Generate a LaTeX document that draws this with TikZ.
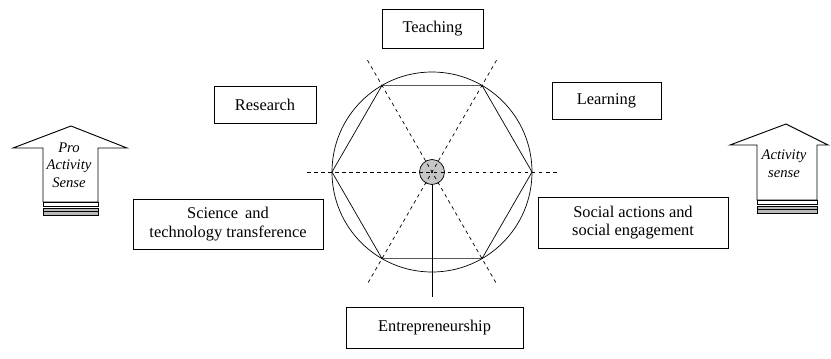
\documentclass[tikz,border=0pt]{standalone}
\usepackage{fontspec}
\newfontfamily\timesfont{Liberation Serif}
\usepackage{tikz}
\usetikzlibrary{calc}

\begin{document}
\begin{tikzpicture}[x=0.03cm, y=-0.03cm, line width=0.8pt,
        field/.style={draw, rectangle, align=center, font=\timesfont\fontsize{14}{15.5}\selectfont},
        sensetext/.style={align=center, font=\timesfont\fontsize{12.5}{15}\selectfont\itshape}]
        \useasboundingbox (0,0) rectangle (831,358);

        % the six fields
        \node[field, minimum width=3.03cm, minimum height=1.17cm] (T) at (432.5,28.5) {Teaching};
        \node[field, minimum width=3.06cm, minimum height=1.11cm] (R) at (265,104.5) {Research};
        \node[field, minimum width=3.27cm, minimum height=1.11cm] (L) at (606.5,100.5) {Learning};
        \node[field, minimum width=5.7cm, minimum height=1.5cm] (S) at (228,224) {Science\, and\\technology transference};
        \node[field, minimum width=5.7cm, minimum height=1.53cm] (A) at (633,222.5) {Social actions and\\social engagement};
        \node[field, minimum width=5.31cm, minimum height=1.23cm] (E) at (434.5,327.5) {Entrepreneurship};

        % circle, hexagon and axes
        \coordinate (O) at (432,172);
        \draw[line width=0.6pt] (O) circle (3cm);
        \draw[line width=0.6pt] ($(O)+(0:3cm)$) \foreach \a in {60,120,...,300} { -- ($(O)+(\a:3cm)$) } -- cycle;
        \node[draw, circle, fill=gray!45, minimum size=0.75cm, inner sep=0pt, line width=0.6pt] (hub) at (O) {};
        \draw[dashed, line width=0.6pt] ($(O)+(180:3.75cm)$) -- ($(O)+(0:3.84cm)$);
        \draw[dashed, line width=0.6pt] ($(O)+(60:3.87cm)$) -- ($(O)+(240:3.87cm)$);
        \draw[dashed, line width=0.6pt] ($(O)+(120:3.87cm)$) -- ($(O)+(300:3.87cm)$);
        \coordinate (stem) at (432,297);
        \draw[line width=0.6pt] (hub) -- (stem);

        % left arrow
        \draw (43,202) -- (43,148) -- (13,148) -- (71,126) -- (127,148) -- (98,148) -- (98,202) -- cycle;
        \draw (43,202) rectangle (98,206);
        \draw[fill=gray!55] (43,208) rectangle (98,215);
        \draw[line width=0.5pt] (43,211.5) -- (98,211.5);
        \node[sensetext] (pro) at (69,165) {Pro\\Activity\\Sense};

        % right arrow
        \draw (757,200) -- (757,145) -- (730,145) -- (786,124) -- (828,145) -- (817,145) -- (817,200) -- cycle;
        \draw (757,200) rectangle (817,204);
        \draw[fill=gray!55] (757,206) rectangle (817,213);
        \draw[line width=0.5pt] (757,209.5) -- (817,209.5);
        \node[sensetext] (act) at (784,164) {Activity\\sense};
\end{tikzpicture}
\end{document}
